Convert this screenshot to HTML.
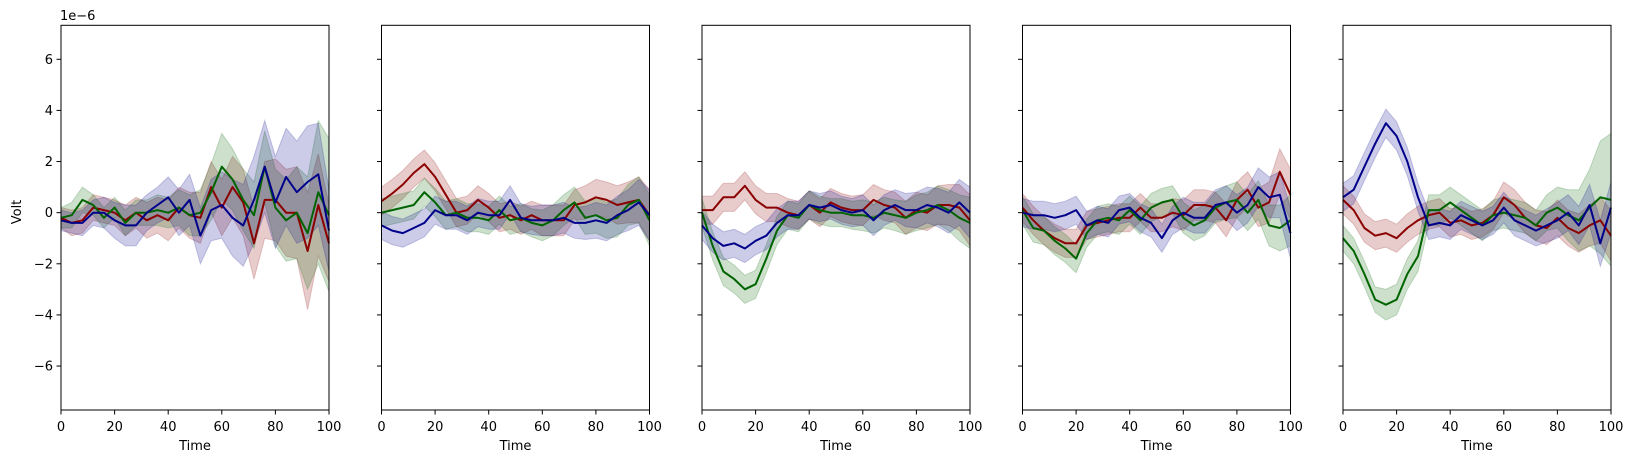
<!DOCTYPE html>
<html><head><meta charset="utf-8"><style>
body{margin:0;background:#fff;}
svg{display:block;font-family:"DejaVu Sans","Liberation Sans",sans-serif;}
</style></head><body>
<svg id="chart" width="1633" height="463" viewBox="0 0 1633 463" xmlns="http://www.w3.org/2000/svg"></svg>
<script>
const times=[0,4,8,12,16,20,24,28,32,36,40,44,48,52,56,60,64,68,72,76,80,84,88,92,96,100];
const xTicks=[0,20,40,60,80,100];
const yTicks=[-6,-4,-2,0,2,4,6];
const seriesNames=["red","green","blue"];
// panel 1
const p1Red=[-0.2,-0.4,-0.3,0.2,0.1,0,-0.3,0,-0.3,-0.1,-0.3,0.2,-0.1,-0.2,1.0,0.2,1.0,0.4,-1.2,0.5,0.5,0,0,-1.5,0.3,-1.2];
const p1Green=[-0.2,-0.1,0.5,0.3,-0.2,0.2,-0.4,0,0,0.1,0,0.2,-0.1,0,0.8,1.8,1.3,0.5,-0.1,1.8,0.2,-0.3,0,-0.8,0.8,-0.1];
const p1Blue=[-0.3,-0.4,-0.4,0,0,-0.3,-0.5,-0.5,0,0.3,0.6,0,0.5,-0.9,0.1,0.3,-0.2,-0.5,0.5,1.8,0.4,1.4,0.8,1.2,1.5,-0.7];
const p1RedW=[0.4,0.5,0.5,0.5,0.5,0.5,0.6,0.6,0.7,0.7,0.8,0.8,0.9,1.0,1.0,1.1,1.2,1.3,1.4,1.5,1.6,1.7,1.8,2.3,2.0,1.5];
const p1GreenW=[0.4,0.5,0.5,0.4,0.4,0.4,0.5,0.5,0.5,0.6,0.6,0.7,0.8,0.9,1.1,1.3,1.2,1.2,1.3,1.4,1.5,1.6,1.8,2.2,2.8,3.0];
const p1BlueW=[0.4,0.4,0.5,0.5,0.6,0.7,0.8,0.8,0.7,0.7,0.8,0.9,1.0,1.1,1.2,1.3,1.5,1.6,1.7,1.8,1.8,1.9,2.0,2.2,2.0,1.6];
// panel 2
const p2Red=[0.45,0.75,1.1,1.55,1.9,1.4,0.7,0,0.1,0.5,0.2,-0.2,-0.1,-0.3,-0.1,-0.3,-0.3,-0.3,0.3,0.4,0.6,0.5,0.3,0.4,0.5,-0.1];
const p2Green=[0,0.1,0.2,0.3,0.8,0.4,-0.1,0,-0.2,-0.2,-0.3,0.1,-0.3,-0.2,-0.4,-0.5,-0.3,0.1,0.4,-0.2,-0.1,-0.3,-0.2,0.3,0.5,-0.3];
const p2Blue=[-0.5,-0.7,-0.8,-0.6,-0.4,0.1,-0.1,-0.1,-0.3,0,-0.1,-0.1,0.5,-0.2,-0.3,-0.3,-0.3,-0.2,-0.4,-0.4,-0.3,-0.4,-0.1,0.1,0.4,-0.1];
// panel 3
const p3Red=[0.1,0.1,0.6,0.6,1.05,0.5,0.2,0.2,0,-0.1,0.3,0,0.4,0.2,0.1,0.1,0.5,0.3,0.2,-0.2,0.1,0,0.3,0.3,0.2,-0.3];
const p3Green=[0,-1.3,-2.3,-2.6,-3.0,-2.8,-1.8,-0.7,-0.1,-0.2,0.3,0.1,0,0,-0.1,-0.1,-0.2,0,-0.1,-0.2,0,0.1,0.3,0.1,-0.2,-0.4];
const p3Blue=[-0.5,-1.0,-1.3,-1.2,-1.4,-1.1,-0.9,-0.4,-0.1,-0.1,0.3,0.2,0.3,0.1,0,0.1,-0.3,0.1,0.3,0.1,0.1,0.3,0.2,0,0.4,0];
// panel 4
const p4Red=[0.2,-0.3,-0.7,-1.0,-1.2,-1.2,-0.5,-0.4,-0.3,-0.2,-0.2,0.2,-0.2,-0.2,0,-0.1,0.3,0.3,0.2,-0.3,0.5,0.9,0.2,0.4,1.6,0.7];
const p4Green=[0.1,-0.6,-0.7,-1.1,-1.4,-1.8,-0.8,-0.3,-0.2,-0.3,0.1,-0.3,0.2,0.4,0.5,-0.2,-0.5,-0.3,0.2,0.4,0.5,0,0.5,-0.5,-0.6,-0.3];
const p4Blue=[0,-0.1,-0.1,-0.2,-0.1,0.1,-0.5,-0.3,-0.4,0.1,0.2,-0.2,-0.4,-1.0,-0.3,0,-0.2,-0.2,0.3,0.4,0,0.3,1.0,0.6,0.7,-0.8];
// panel 5
const p5Red=[0.5,0.1,-0.6,-0.9,-0.8,-1.0,-0.6,-0.3,-0.1,0,-0.4,-0.3,-0.5,-0.4,-0.1,0.6,0.3,-0.2,-0.5,-0.6,-0.2,-0.6,-0.8,-0.5,-0.3,-0.9];
const p5Green=[-1.0,-1.5,-2.4,-3.4,-3.6,-3.4,-2.4,-1.7,0.1,0.1,0.4,0.1,-0.2,-0.5,-0.1,0,-0.1,-0.2,-0.5,0,0.2,-0.1,-0.3,0.2,0.6,0.5];
const p5Blue=[0.6,0.9,1.8,2.7,3.5,3.0,2.0,0.6,-0.5,-0.4,-0.5,-0.1,-0.3,-0.5,-0.3,0.2,-0.3,-0.5,-0.7,-0.5,-0.3,0,-0.5,0.3,-1.2,0.2];
const p5GreenW=[0.5,0.5,0.5,0.5,0.6,0.6,0.6,0.6,0.6,0.6,0.6,0.6,0.6,0.6,0.6,0.6,0.6,0.6,0.6,0.7,0.8,1.0,1.2,1.5,2.2,2.6];
const bandW=[0.55,0.55,0.55,0.55,0.55,0.55,0.55,0.55,0.55,0.55,0.55,0.55,0.55,0.55,0.55,0.6,0.6,0.6,0.6,0.65,0.7,0.7,0.75,0.8,0.9,1.0];

const panels=[
 {name:"panel-1",s:[[p1Red,p1RedW],[p1Green,p1GreenW],[p1Blue,p1BlueW]]},
 {name:"panel-2",s:[[p2Red,bandW],[p2Green,bandW],[p2Blue,bandW]]},
 {name:"panel-3",s:[[p3Red,bandW],[p3Green,bandW],[p3Blue,bandW]]},
 {name:"panel-4",s:[[p4Red,bandW],[p4Green,bandW],[p4Blue,bandW]]},
 {name:"panel-5",s:[[p5Red,bandW],[p5Green,p5GreenW],[p5Blue,bandW]]}
];
const colors=["#8b0000","#006400","#00008b"];
const NS="http://www.w3.org/2000/svg";
const svg=document.getElementById("chart");
const plotTop=25.3,plotBottom=410,yMin=-7.72,yMax=7.33,pw=268;
const lefts=[61,381.5,702,1022.5,1343];
function yS(v){return plotBottom-(v-yMin)/(yMax-yMin)*(plotBottom-plotTop);}
function mk(tag,attrs,parent){const e=document.createElementNS(NS,tag);for(const k in attrs)e.setAttribute(k,attrs[k]);(parent||svg).appendChild(e);return e;}

panels.forEach((p,pi)=>{
  const L=lefts[pi];
  const xS=t=>L+t/100*pw;
  const g=mk("g",{});
  
  
  p.s.forEach((sr,si)=>{
    const m=sr[0],w=sr[1];
    let up=times.map((t,i)=>xS(t).toFixed(1)+","+yS(m[i]+w[i]).toFixed(1));
    let lo=times.map((t,i)=>xS(t).toFixed(1)+","+yS(m[i]-w[i]).toFixed(1)).reverse();
    const band=mk("polygon",{points:up.concat(lo).join(" "),fill:colors[si],"fill-opacity":0.2,stroke:colors[si],"stroke-opacity":0.2,"stroke-width":1},g);
    
    
  });
  p.s.forEach((sr,si)=>{
    const m=sr[0];
    const ln=mk("polyline",{points:times.map((t,i)=>xS(t).toFixed(1)+","+yS(m[i]).toFixed(1)).join(" "),fill:"none",stroke:colors[si],"stroke-width":2,"stroke-linejoin":"round"},g);
    
    
  });
  const frame=mk("rect",{x:L,y:plotTop,width:pw,height:plotBottom-plotTop,fill:"none",stroke:"#000","stroke-width":1},g);
  
  
  xTicks.forEach(t=>{
    mk("line",{x1:xS(t),x2:xS(t),y1:plotBottom,y2:plotBottom+4.5,stroke:"#000","stroke-width":1},g);
    const tx=mk("text",{x:xS(t),y:plotBottom+21,"font-size":13,"text-anchor":"middle",fill:"#000"},g);
    tx.textContent=t;
    
    
  });
  yTicks.forEach(v=>{
    mk("line",{x1:L-4.5,x2:L,y1:yS(v),y2:yS(v),stroke:"#000","stroke-width":1},g);
    if(pi===0){
      const ty=mk("text",{x:L-8,y:yS(v)+4.5,"font-size":13,"text-anchor":"end",fill:"#000"},g);
      ty.textContent=v<0?"\u2212"+(-v):String(v);
      
      
    }
  });
  const xt=mk("text",{x:L+pw/2,y:plotBottom+40,"font-size":13,"text-anchor":"middle",fill:"#000"},g);
  xt.textContent="Time";
  
  
});
const yt=mk("text",{x:0,y:0,"font-size":13,"text-anchor":"middle",fill:"#000",transform:"translate(21,212) rotate(-90)"});
yt.textContent="Volt";


const off=mk("text",{x:60,y:20,"font-size":13,fill:"#000"});
off.textContent="1e\u22126";


</script>
</body></html>
